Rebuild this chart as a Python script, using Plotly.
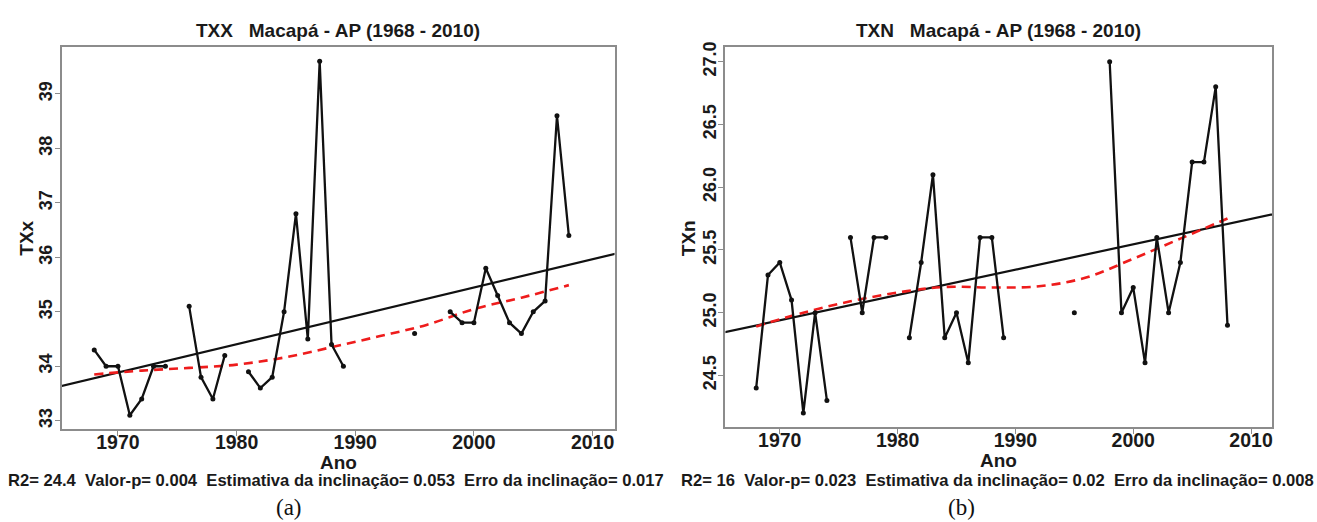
import plotly.graph_objects as go

# ---------------- data ----------------
years = list(range(1968, 2009))

# TXx (annual maximum of daily max temperature), Macapá - AP; None = missing year
txx = [34.3, 34.0, 34.0, 33.1, 33.4, 34.0, 34.0, None, 35.1, 33.8,
       33.4, 34.2, None, 33.9, 33.6, 33.8, 35.0, 36.8, 34.5, 39.6,
       34.4, 34.0, None, None, None, None, None, 34.6, None, None,
       35.0, 34.8, 34.8, 35.8, 35.3, 34.8, 34.6, 35.0, 35.2, 38.6,
       36.4]

# TXn (annual minimum of daily max temperature)
txn = [24.4, 25.3, 25.4, 25.1, 24.2, 25.0, 24.3, None, 25.6, 25.0,
       25.6, 25.6, None, 24.8, 25.4, 26.1, 24.8, 25.0, 24.6, 25.6,
       25.6, 24.8, None, None, None, None, None, 25.0, None, None,
       27.0, 25.0, 25.2, 24.6, 25.6, 25.0, 25.4, 26.2, 26.2, 26.8,
       24.9]

# linear trend (values at the two ends of the axis span)
trend_years = [1965, 2012]
txx_trend = [33.625, 36.07]
txn_trend = [24.837, 25.787]

# local smoother (lowess) values
smooth_years = [1968, 1972, 1976, 1980, 1984, 1988, 1992, 1996, 2000, 2004, 2008]
txx_smooth = [33.85, 33.92, 33.97, 34.03, 34.16, 34.35, 34.55, 34.76, 35.05, 35.26, 35.49]
txn_smooth = [24.89, 25.00, 25.09, 25.16, 25.205, 25.20, 25.21, 25.28, 25.43, 25.59, 25.75]

titles = ["TXX   Macapá - AP (1968 - 2010)", "TXN   Macapá - AP (1968 - 2010)"]
ylabels = ["TXx", "TXn"]
stats = ["R2= 24.4  Valor-p= 0.004  Estimativa da inclinação= 0.053  Erro da inclinação= 0.017",
         "R2= 16  Valor-p= 0.023  Estimativa da inclinação= 0.02  Erro da inclinação= 0.008"]
panel_tags = ["(a)", "(b)"]

x_ticks = [1970, 1980, 1990, 2000, 2010]
txx_ticks = [33, 34, 35, 36, 37, 38, 39]
txn_ticks = [24.5, 25.0, 25.5, 26.0, 26.5, 27.0]
txn_ticktext = ["24.5", "25.0", "25.5", "26.0", "26.5", "27.0"]

# ---------------- figure ----------------
W, H = 1317, 522
SANS = "Liberation Sans, Arial, sans-serif"
SERIF = "Liberation Serif, Times New Roman, serif"
FRAME = "#8c8c8c"
INK = "#1a1a1a"

fig = go.Figure()

left_dom = [62 / W, 615 / W]
right_dom = [726 / W, 1273 / W]
left_ydom = [94 / H, 480 / H]
right_ydom = [96 / H, 479.5 / H]

panels = [
    dict(y=txx, trend=txx_trend, smooth=txx_smooth, xa="x", ya="y",
         xr=[1965.28, 2011.85], yr=[32.85, 39.87], yt=txx_ticks, ytt=None,
         xd=left_dom, yd=left_ydom, tx="x3", ty="y3"),
    dict(y=txn, trend=txn_trend, smooth=txn_smooth, xa="x2", ya="y2",
         xr=[1965.39, 2011.78], yr=[24.089, 27.117], yt=txn_ticks, ytt=txn_ticktext,
         xd=right_dom, yd=right_ydom, tx="x4", ty="y4"),
]

for p in panels:
    fig.add_trace(go.Scatter(
        x=trend_years, y=p["trend"], mode="lines",
        line=dict(color="#111111", width=2.2),
        xaxis=p["xa"], yaxis=p["ya"], showlegend=False, hoverinfo="skip"))
    fig.add_trace(go.Scatter(
        x=smooth_years, y=p["smooth"], mode="lines",
        line=dict(color="#ee1c1c", width=2.6, dash="9px,6px", shape="spline"),
        xaxis=p["xa"], yaxis=p["ya"], showlegend=False, hoverinfo="skip"))
    fig.add_trace(go.Scatter(
        x=years, y=p["y"], mode="lines+markers", connectgaps=False,
        line=dict(color="#111111", width=2.3),
        marker=dict(color="#111111", size=5),
        xaxis=p["xa"], yaxis=p["ya"], showlegend=False))
    # empty trace that keeps the tick-mark axes alive
    fig.add_trace(go.Scatter(
        x=[None], y=[None], mode="lines", xaxis=p["tx"], yaxis=p["ty"],
        showlegend=False, hoverinfo="skip"))

# main axes: frame + labels (tick marks are drawn by the twin axes)
label_axis = dict(
    showline=True, mirror=True, linecolor=FRAME, linewidth=1.5,
    showgrid=False, zeroline=False,
    ticks="outside", ticklen=1, tickcolor="rgba(0,0,0,0)",
)
# twin axes: only the short outside tick marks
mark_axis = dict(
    showline=False, showgrid=False, zeroline=False, showticklabels=False,
    ticks="outside", ticklen=6, tickwidth=1.2, tickcolor=FRAME,
)

layout = dict(width=W, height=H, margin=dict(l=0, r=0, t=0, b=0),
              paper_bgcolor="white", plot_bgcolor="white",
              font=dict(family=SANS, color=INK))

for i, p in enumerate(panels):
    xs = "" if i == 0 else "2"
    ys = "" if i == 0 else "2"
    layout["xaxis" + xs] = dict(domain=p["xd"], range=p["xr"], tickvals=x_ticks,
                                anchor=p["ya"], ticklabelstandoff=-6,
                                tickfont=dict(family=SANS, size=19.5, color=INK, weight="bold"),
                                **label_axis)
    yax = dict(domain=p["yd"], range=p["yr"], tickvals=p["yt"], tickangle=-90,
               anchor=p["xa"],
               tickfont=dict(family=SANS, size=18, color=INK, weight="bold"),
               **label_axis)
    if p["ytt"] is not None:
        yax["ticktext"] = p["ytt"]
    layout["yaxis" + ys] = yax
    layout["xaxis" + p["tx"][1:]] = dict(domain=p["xd"], range=p["xr"], tickvals=x_ticks,
                                         overlaying=p["xa"], anchor=p["ya"], **mark_axis)
    layout["yaxis" + p["ty"][1:]] = dict(domain=p["yd"], range=p["yr"], tickvals=p["yt"],
                                         overlaying=p["ya"], anchor=p["xa"], **mark_axis)

fig.update_layout(**layout)

centers = [(left_dom[0] + left_dom[1]) / 2, (right_dom[0] + right_dom[1]) / 2]
ylab_x = [27 / W, 689 / W]
ano_y = [462, 460]
stat_x = [336 / W, 998 / W]
tag_x = [289 / W, 962 / W]

for i in range(2):
    fig.add_annotation(text=titles[i], x=centers[i], y=1 - 26 / H, xref="paper", yref="paper",
                       showarrow=False, xanchor="center", yanchor="middle",
                       font=dict(family=SANS, size=19, weight="bold", color=INK))
    fig.add_annotation(text=ylabels[i], x=ylab_x[i], y=1 - 235 / H, xref="paper", yref="paper",
                       showarrow=False, textangle=-90, xanchor="center", yanchor="middle",
                       font=dict(family=SANS, size=19, weight="bold", color=INK))
    fig.add_annotation(text="Ano", x=centers[i], y=1 - ano_y[i] / H, xref="paper", yref="paper",
                       showarrow=False, xanchor="center", yanchor="middle",
                       font=dict(family=SANS, size=19, weight="bold", color=INK))
    fig.add_annotation(text=stats[i], x=stat_x[i], y=1 - 480 / H, xref="paper", yref="paper",
                       showarrow=False, xanchor="center", yanchor="middle",
                       font=dict(family=SANS, size=16.6, weight="bold", color=INK))
    fig.add_annotation(text=panel_tags[i], x=tag_x[i], y=1 - 507 / H, xref="paper", yref="paper",
                       showarrow=False, xanchor="center", yanchor="middle",
                       font=dict(family=SERIF, size=23, color="#111111"))

fig.write_html("out.html")
